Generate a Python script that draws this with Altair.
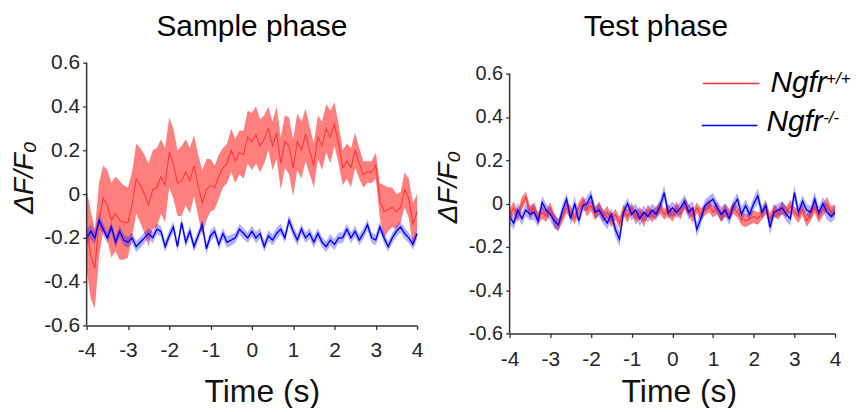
import altair as alt
import pandas as pd

TIME = [-4.0, -3.9, -3.8, -3.7, -3.6, -3.5, -3.4, -3.3, -3.2, -3.1,
        -3.0, -2.9, -2.8, -2.7, -2.6, -2.5, -2.4, -2.3, -2.2, -2.1,
        -2.0, -1.9, -1.8, -1.7, -1.6, -1.5, -1.4, -1.3, -1.2, -1.1,
        -1.0, -0.9, -0.8, -0.7, -0.6, -0.5, -0.4, -0.3, -0.2, -0.1,
        0.0, 0.1, 0.2, 0.3, 0.4, 0.5, 0.6, 0.7, 0.8, 0.9,
        1.0, 1.1, 1.2, 1.3, 1.4, 1.5, 1.6, 1.7, 1.8, 1.9,
        2.0, 2.1, 2.2, 2.3, 2.4, 2.5, 2.6, 2.7, 2.8, 2.9,
        3.0, 3.1, 3.2, 3.3, 3.4, 3.5, 3.6, 3.7, 3.8, 3.9, 4.0]

# Sample phase, Ngfr+/+ (mean and s.e.m.)
SAMPLE_WT = [-0.16, -0.28, -0.34, -0.12, -0.02, -0.05, -0.12, -0.09, -0.12, -0.13,
             -0.13, -0.05, 0.07, 0.04, 0.00, -0.05, 0.02, 0.03, 0.08, 0.04,
             0.19, 0.14, 0.05, 0.06, 0.10, 0.06, 0.13, 0.04, -0.04, 0.02,
             0.04, 0.03, 0.08, 0.12, 0.14, 0.20, 0.15, 0.19, 0.18, 0.26,
             0.24, 0.27, 0.22, 0.25, 0.30, 0.22, 0.28, 0.14, 0.24, 0.22,
             0.12, 0.24, 0.20, 0.27, 0.20, 0.13, 0.26, 0.22, 0.30, 0.26,
             0.32, 0.23, 0.12, 0.15, 0.12, 0.20, 0.14, 0.09, 0.10, 0.10,
             0.13, -0.03, -0.08, -0.07, -0.06, -0.08, -0.06, 0.02, -0.02, -0.14, -0.08]
SAMPLE_WT_SEM = [0.18, 0.20, 0.18, 0.17, 0.15, 0.16, 0.17, 0.17, 0.18, 0.17,
                 0.16, 0.15, 0.16, 0.17, 0.18, 0.19, 0.18, 0.18, 0.17, 0.17,
                 0.16, 0.16, 0.15, 0.16, 0.15, 0.15, 0.14, 0.14, 0.15, 0.14,
                 0.12, 0.10, 0.10, 0.09, 0.09, 0.10, 0.10, 0.10, 0.11, 0.12,
                 0.13, 0.13, 0.12, 0.11, 0.10, 0.11, 0.12, 0.12, 0.12, 0.13,
                 0.13, 0.13, 0.13, 0.12, 0.11, 0.10, 0.10, 0.11, 0.11, 0.12,
                 0.10, 0.09, 0.08, 0.08, 0.09, 0.08, 0.07, 0.06, 0.05, 0.05,
                 0.06, 0.08, 0.12, 0.10, 0.09, 0.08, 0.07, 0.08, 0.09, 0.10, 0.08]

# Sample phase, Ngfr-/-
SAMPLE_KO = [-0.20, -0.17, -0.20, -0.12, -0.16, -0.20, -0.15, -0.22, -0.17, -0.21,
             -0.22, -0.20, -0.24, -0.22, -0.20, -0.18, -0.20, -0.16, -0.17, -0.24,
             -0.19, -0.15, -0.24, -0.13, -0.22, -0.17, -0.24, -0.19, -0.14, -0.25,
             -0.19, -0.17, -0.23, -0.18, -0.22, -0.21, -0.20, -0.16, -0.18, -0.20,
             -0.17, -0.20, -0.18, -0.24, -0.19, -0.21, -0.18, -0.16, -0.20, -0.12,
             -0.17, -0.21, -0.16, -0.20, -0.18, -0.22, -0.18, -0.22, -0.24, -0.21,
             -0.23, -0.20, -0.20, -0.16, -0.20, -0.17, -0.21, -0.18, -0.14, -0.20,
             -0.21, -0.15, -0.20, -0.24, -0.20, -0.17, -0.15, -0.18, -0.20, -0.23, -0.18]
SAMPLE_KO_SEM = [0.035, 0.035, 0.030, 0.030, 0.028, 0.026, 0.025, 0.025, 0.026, 0.025,
                 0.024, 0.025, 0.026, 0.025, 0.024, 0.025, 0.026, 0.025, 0.024, 0.025,
                 0.026, 0.025, 0.025, 0.024, 0.025, 0.026, 0.025, 0.024, 0.025, 0.026,
                 0.025, 0.024, 0.025, 0.025, 0.026, 0.025, 0.024, 0.025, 0.025, 0.024,
                 0.025, 0.026, 0.025, 0.024, 0.025, 0.025, 0.026, 0.025, 0.024, 0.025,
                 0.026, 0.025, 0.025, 0.024, 0.025, 0.026, 0.025, 0.024, 0.025, 0.026,
                 0.025, 0.024, 0.025, 0.025, 0.026, 0.025, 0.024, 0.025, 0.025, 0.024,
                 0.025, 0.026, 0.025, 0.024, 0.025, 0.025, 0.026, 0.025, 0.024, 0.025, 0.025]

# Test phase, Ngfr+/+
TEST_WT = [-0.05, -0.02, -0.06, 0.00, 0.03, -0.04, -0.02, -0.07, -0.04, -0.06,
           -0.02, -0.08, -0.10, -0.06, -0.02, -0.04, -0.07, -0.02, 0.01, -0.03,
           -0.01, -0.05, -0.02, -0.06, -0.04, -0.08, -0.05, -0.09, -0.03, -0.06,
           -0.02, -0.07, -0.04, -0.08, -0.03, -0.06, -0.04, -0.02, -0.05, -0.03,
           -0.06, -0.02, -0.05, 0.00, -0.03, -0.06, -0.02, -0.05, -0.03, -0.01,
           -0.04, -0.02, -0.06, -0.03, -0.05, -0.02, -0.04, -0.07, -0.08, -0.07,
           -0.06, -0.07, -0.05, -0.02, -0.07, -0.03, -0.05, -0.02, -0.04, -0.01,
           -0.04, -0.06, -0.03, -0.08, -0.05, -0.02, -0.06, -0.03, 0.00, -0.04, -0.03]
TEST_WT_SEM = [0.025, 0.030, 0.025, 0.030, 0.025, 0.030, 0.025, 0.028, 0.030, 0.025,
               0.028, 0.030, 0.025, 0.028, 0.025, 0.030, 0.025, 0.028, 0.025, 0.030,
               0.025, 0.028, 0.030, 0.025, 0.028, 0.030, 0.025, 0.028, 0.025, 0.030,
               0.025, 0.028, 0.025, 0.030, 0.025, 0.028, 0.025, 0.030, 0.025, 0.028,
               0.025, 0.030, 0.025, 0.028, 0.025, 0.030, 0.025, 0.028, 0.025, 0.030,
               0.025, 0.028, 0.025, 0.030, 0.025, 0.028, 0.025, 0.030, 0.030, 0.028,
               0.030, 0.028, 0.025, 0.030, 0.025, 0.028, 0.025, 0.030, 0.025, 0.028,
               0.025, 0.030, 0.025, 0.028, 0.030, 0.025, 0.030, 0.028, 0.030, 0.028, 0.025]

# Test phase, Ngfr-/-
TEST_KO = [-0.06, -0.09, -0.03, -0.07, -0.03, -0.05, -0.04, -0.08, 0.005, -0.03,
           -0.05, -0.08, -0.10, -0.03, 0.02, -0.07, 0.00, -0.08, -0.01, 0.00,
           0.035, -0.04, -0.03, -0.06, -0.09, -0.05, -0.12, -0.165, -0.04, 0.00,
           -0.05, -0.03, -0.07, -0.04, -0.06, -0.03, -0.05, -0.01, 0.05, -0.045,
           -0.02, -0.04, -0.02, 0.01, -0.04, -0.02, -0.12, -0.07, -0.01, 0.005,
           0.02, -0.02, -0.05, -0.03, -0.07, -0.01, 0.02, -0.05, -0.01, -0.05,
           0.00, 0.035, -0.04, -0.01, -0.11, -0.04, -0.03, -0.02, -0.05, -0.07,
           0.05, -0.04, 0.01, -0.03, -0.04, 0.02, -0.045, 0.00, -0.04, -0.06, -0.04]
TEST_KO_SEM = [0.035, 0.030, 0.035, 0.030, 0.028, 0.030, 0.035, 0.030, 0.030, 0.028,
               0.030, 0.035, 0.030, 0.030, 0.028, 0.030, 0.035, 0.030, 0.028, 0.030,
               0.030, 0.028, 0.030, 0.035, 0.030, 0.030, 0.035, 0.035, 0.030, 0.028,
               0.030, 0.030, 0.035, 0.030, 0.028, 0.030, 0.030, 0.030, 0.035, 0.030,
               0.030, 0.028, 0.030, 0.030, 0.035, 0.030, 0.035, 0.030, 0.028, 0.030,
               0.030, 0.030, 0.035, 0.030, 0.030, 0.028, 0.030, 0.035, 0.030, 0.030,
               0.030, 0.035, 0.030, 0.028, 0.035, 0.030, 0.030, 0.030, 0.035, 0.030,
               0.035, 0.030, 0.030, 0.028, 0.030, 0.035, 0.030, 0.030, 0.035, 0.030, 0.030]

TITLES = ["Sample phase", "Test phase"]
X_TICKS = [-4, -3, -2, -1, 0, 1, 2, 3, 4]
Y_TICKS = [-0.6, -0.4, -0.2, 0, 0.2, 0.4, 0.6]
LEGEND_NAMES = ["Ngfr", "Ngfr"]
LEGEND_SUPS = ["+/+", "-/-"]

RED_LINE = "#ff3535"
BLUE_LINE = "#0000ff"
AXIS_COLOR = "#333333"
FONT = "Liberation Sans, Arial, sans-serif"


def frame(mean, sem):
    return pd.DataFrame({
        "t": TIME,
        "m": mean,
        "lo": [a - b for a, b in zip(mean, sem)],
        "hi": [a + b for a, b in zip(mean, sem)],
    })


def panel(title, wt, wt_sem, ko, ko_sem, w, h, ytop, title_x,
          xtitle_x, xtitle_y, xlabel_pad, ytitle_x, ytitle_y, ylabel_size, legend=False):
    xs = alt.Scale(domain=[-4, 4], nice=False, zero=False)
    ys = alt.Scale(domain=[-0.6, ytop], nice=False, zero=False)
    xax = alt.Axis(values=X_TICKS, labelExpr="toString(datum.value)", title="Time (s)",
                   titleX=xtitle_x, titleY=xtitle_y, titleBaseline="alphabetic",
                   titleAlign="center", titleFontSize=32, labelFontSize=21,
                   labelBaseline="alphabetic", labelPadding=xlabel_pad,
                   labelFlush=False, labelOverlap=False)
    yax = alt.Axis(values=Y_TICKS, labelExpr="toString(round(datum.value * 10) / 10)",
                   title="ΔF/F₀", titleAngle=270, titleX=ytitle_x, titleY=ytitle_y,
                   titleBaseline="alphabetic", titleAlign="center", titleFontSize=28,
                   titleFontStyle="italic", labelFontSize=ylabel_size, labelPadding=3,
                   domain=False, labelFlush=False, labelOverlap=False)
    x = alt.X("t:Q", scale=xs, axis=xax)
    dwt = frame(wt, wt_sem)
    dko = frame(ko, ko_sem)
    one_row = pd.DataFrame({"title": [title]})
    band_wt = alt.Chart(dwt).mark_area(color="#ff0000", opacity=0.5).encode(
        x=x, y=alt.Y("lo:Q", scale=ys, axis=yax), y2="hi:Q")
    band_ko = alt.Chart(dko).mark_area(color="#0000ff", opacity=0.3).encode(
        x=x, y=alt.Y("lo:Q", scale=ys, axis=yax), y2="hi:Q")
    line_wt = alt.Chart(dwt).mark_line(color=RED_LINE, strokeWidth=1.1).encode(
        x=x, y=alt.Y("m:Q", scale=ys, axis=yax))
    line_ko = alt.Chart(dko).mark_line(color=BLUE_LINE, strokeWidth=1.4).encode(
        x=x, y=alt.Y("m:Q", scale=ys, axis=yax))
    y_domain = alt.Chart(one_row).mark_rule(color=AXIS_COLOR, strokeWidth=1.5).encode(
        x=alt.value(0), y=alt.datum(Y_TICKS[-1]), y2=alt.datum(Y_TICKS[0]))
    title_mark = alt.Chart(one_row).mark_text(
        align="center", baseline="alphabetic", font=FONT, fontSize=30, color="black"
    ).encode(text="title:N", x=alt.value(title_x), y=alt.value(-27))
    layers = [band_wt, band_ko, line_wt, line_ko, y_domain, title_mark]
    if legend:
        one = pd.DataFrame({"name": LEGEND_NAMES[:1], "sup": LEGEND_SUPS[:1]})
        two = pd.DataFrame({"name": LEGEND_NAMES[1:], "sup": LEGEND_SUPS[1:]})
        layers += [
            alt.Chart(one).mark_rule(color=RED_LINE, strokeWidth=1.5).encode(
                x=alt.value(194), x2=alt.value(251), y=alt.value(21)),
            alt.Chart(two).mark_rule(color=BLUE_LINE, strokeWidth=1.5).encode(
                x=alt.value(193), x2=alt.value(249), y=alt.value(63)),
            alt.Chart(one).mark_text(align="left", baseline="alphabetic", font=FONT,
                                     fontSize=30, fontStyle="italic", color="black").encode(
                text="name:N", x=alt.value(262), y=alt.value(29)),
            alt.Chart(one).mark_text(align="left", baseline="alphabetic", font=FONT,
                                     fontSize=17, fontStyle="italic", color="black").encode(
                text="sup:N", x=alt.value(318), y=alt.value(21)),
            alt.Chart(two).mark_text(align="left", baseline="alphabetic", font=FONT,
                                     fontSize=30, fontStyle="italic", color="black").encode(
                text="name:N", x=alt.value(258), y=alt.value(69)),
            alt.Chart(two).mark_text(align="left", baseline="alphabetic", font=FONT,
                                     fontSize=17, fontStyle="italic", color="black").encode(
                text="sup:N", x=alt.value(315), y=alt.value(61)),
        ]
    return alt.layer(*layers).properties(width=w, height=h)


left = panel(TITLES[0], SAMPLE_WT, SAMPLE_WT_SEM, SAMPLE_KO, SAMPLE_KO_SEM,
             332, 264, 0.6, 166, 176, 76, 27, -54, 115, 21)
right = panel(TITLES[1], TEST_WT, TEST_WT_SEM, TEST_KO, TEST_KO_SEM,
              327, 272, 0.6506, 147, 170, 68, 28, -53, 124.5, 20, legend=True)

chart = alt.hconcat(left, right, spacing=12).properties(
    padding={"left": 3, "top": 3, "right": 0, "bottom": 0}
).configure_view(stroke=None).configure_axis(
    grid=False, domainColor=AXIS_COLOR, domainWidth=1.5, tickColor=AXIS_COLOR,
    tickWidth=1.3, tickSize=4, labelColor="#262626", titleColor="#111111",
    labelFont=FONT, titleFont=FONT, titleFontWeight="normal",
).configure_concat(spacing=12)

chart.save("out.html", embed_options={"renderer": "svg", "actions": False})
